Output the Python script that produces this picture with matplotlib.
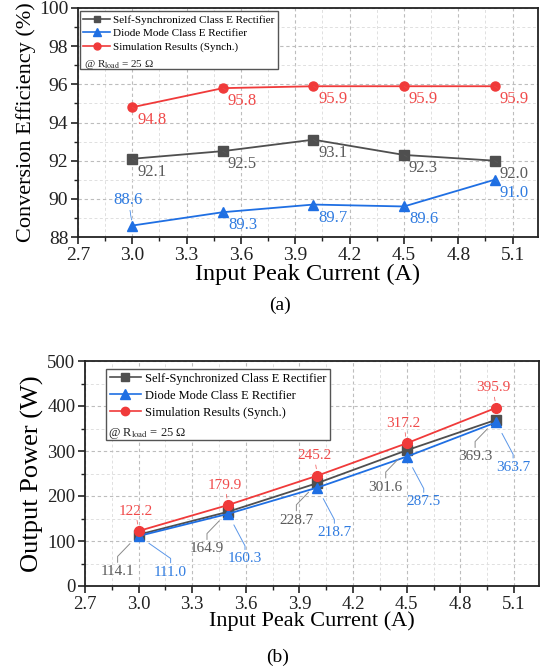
import matplotlib
matplotlib.use('Agg')
import matplotlib.pyplot as plt
from matplotlib.lines import Line2D
from matplotlib.ticker import MultipleLocator

plt.rcParams['font.family'] = ['Liberation Serif', 'DejaVu Serif']
plt.rcParams['mathtext.fontset'] = 'stix'

# data
current = [3.0, 3.5, 4.0, 4.5, 5.0]
eff_self = [92.1, 92.5, 93.1, 92.3, 92.0]
eff_diode = [88.6, 89.3, 89.7, 89.6, 91.0]
eff_sim = [94.8, 95.8, 95.9, 95.9, 95.9]
pow_self = [114.1, 164.9, 228.7, 301.6, 369.3]
pow_diode = [111.0, 160.3, 218.7, 287.5, 363.7]
pow_sim = [122.2, 179.9, 245.2, 317.2, 395.9]
series_names = ['Self-Synchronized Class E Rectifier',
                'Diode Mode Class E Rectifier',
                'Simulation Results (Synch.)']

GRAY = '#4f4f4f'
BLUE = '#1f6fe3'
RED = '#f03a3a'
GRAY_T = '#5a5a5a'
BLUE_T = '#2f7be0'
RED_T = '#f04a4a'

fig = plt.figure(figsize=(5.4, 6.69), dpi=100)
ax1 = fig.add_axes([78/540, 1-237/669, 460/540, 229/669])
ax2 = fig.add_axes([85/540, 1-586/669, 454/540, 225/669])


def style_axes(ax, tick_fs):
    for s in ax.spines.values():
        s.set_linewidth(1.3)
        s.set_color('#222222')
    ax.tick_params(which='major', direction='out', length=5, width=1.2,
                   labelsize=tick_fs, colors='#222222', pad=2)
    ax.tick_params(which='minor', direction='out', length=3, width=1.0,
                   colors='#222222')
    ax.grid(which='major', color='#bdbdbd', linestyle=(0, (3, 2.5)), lw=0.8)
    ax.grid(which='minor', color='#e0e0e0', linestyle=(0, (3, 2.5)), lw=0.7)
    ax.set_axisbelow(True)
    ax.set_xlim(2.7, 5.24)
    ax.xaxis.set_major_locator(MultipleLocator(0.3))
    ax.xaxis.set_minor_locator(MultipleLocator(0.15))
    ax.set_xticks([2.7, 3.0, 3.3, 3.6, 3.9, 4.2, 4.5, 4.8, 5.1])


# ---------- (a) efficiency ----------
style_axes(ax1, 14)
ax1.plot(current, eff_self, color=GRAY, marker='s', ms=6.5, lw=1.3, label=series_names[0])
ax1.plot(current, eff_diode, color=BLUE, marker='^', ms=7, lw=1.3, label=series_names[1])
ax1.plot(current, eff_sim, color=RED, marker='o', ms=6.5, lw=1.3, label=series_names[2])
ax1.set_ylim(88, 100)
ax1.yaxis.set_major_locator(MultipleLocator(2))
ax1.yaxis.set_minor_locator(MultipleLocator(1))
ax1.set_xticklabels(['2.7', '3.0', '3.3', '3.6', '3.9', '4.2', '4.5', '4.8', '5.1'])

for vals, col in [(eff_sim, RED_T), (eff_self, GRAY_T), (eff_diode, BLUE_T)]:
    for i, (x, v) in enumerate(zip(current, vals)):
        if vals is eff_diode and i == 0:
            off, ha, va = (-4, 18), 'center', 'bottom'
        else:
            off, ha, va = (5, -5), 'left', 'top'
        ax1.annotate(f'{v:.1f}', xy=(x, v), xytext=off, textcoords='offset pixels',
                     ha=ha, va=va, fontsize=12, color=col,
                     arrowprops=dict(arrowstyle='-', color=col, lw=0.5,
                                     shrinkA=0, shrinkB=4))

ax1.set_ylabel('Conversion Efficiency (%)', fontsize=16, labelpad=2)
ax1.set_xlabel('Input Peak Current (A)', fontsize=17.5, labelpad=0)

h = [Line2D([], [], color=GRAY, marker='s', ms=5, lw=1.2),
     Line2D([], [], color=BLUE, marker='^', ms=6, lw=1.2),
     Line2D([], [], color=RED, marker='o', ms=5, lw=1.2),
     Line2D([], [], color='none')]
leg = ax1.legend(h, series_names + [' '], loc='upper left',
                 bbox_to_anchor=(0.004, 0.985), borderaxespad=0, fontsize=8,
                 labelspacing=0.35, handlelength=2.4, handletextpad=0.3,
                 borderpad=0.3, fancybox=False, framealpha=1, edgecolor='#555555')
leg.get_frame().set_linewidth(1.0)
ax1.text(0.012, 0.752, '@ R$_{\\mathrm{load}}$ = 25 Ω', transform=ax1.transAxes,
         fontsize=8, va='center', ha='left', color='#222222', zorder=10)

# ---------- (b) output power ----------
style_axes(ax2, 13.5)
ax2.plot(current, pow_self, color=GRAY, marker='s', ms=7, lw=1.3)
ax2.plot(current, pow_diode, color=BLUE, marker='^', ms=7.5, lw=1.3)
ax2.plot(current, pow_sim, color=RED, marker='o', ms=7, lw=1.3)
ax2.set_ylim(0, 500)
ax2.yaxis.set_major_locator(MultipleLocator(100))
ax2.yaxis.set_minor_locator(MultipleLocator(50))
ax2.set_xticklabels(['2.7', '3.0', '3.3', '3.6', '3.9', '4.2', '4.5', '4.8', '5.1'])

for i, (x, v) in enumerate(zip(current, pow_sim)):
    ax2.annotate(f'{v:.1f}', xy=(x, v), xytext=(-3, 20), textcoords='offset pixels',
                 ha='center', va='center', fontsize=11, color=RED_T,
                 arrowprops=dict(arrowstyle='-', color=RED_T, lw=0.5,
                                 shrinkA=0, shrinkB=5))
for i, (x, v) in enumerate(zip(current, pow_self)):
    ax2.annotate(f'{v:.1f}', xy=(x, v), xytext=(-21, -37), textcoords='offset pixels',
                 ha='center', va='center', fontsize=11, color=GRAY_T,
                 arrowprops=dict(arrowstyle='-', color='#8a8a8a', lw=0.7,
                                 shrinkA=0, shrinkB=9,
                                 connectionstyle='angle,angleA=90,angleB=46,rad=0'))
for i, (x, v) in enumerate(zip(current, pow_diode)):
    if i == 0:
        off, ang = (32, -36), 145
    else:
        off, ang = (17, -45), 118
    ax2.annotate(f'{v:.1f}', xy=(x, v), xytext=off, textcoords='offset pixels',
                 ha='center', va='center', fontsize=11, color=BLUE_T,
                 arrowprops=dict(arrowstyle='-', color='#5a96e8', lw=0.7,
                                 shrinkA=0, shrinkB=9,
                                 connectionstyle=f'angle,angleA=90,angleB={ang},rad=0'))

ax2.set_ylabel('Output Power (W)', fontsize=19, labelpad=2)
ax2.set_xlabel('Input Peak Current (A)', fontsize=16, labelpad=-1)

h2 = [Line2D([], [], color=GRAY, marker='s', ms=6, lw=1.2),
      Line2D([], [], color=BLUE, marker='^', ms=6.5, lw=1.2),
      Line2D([], [], color=RED, marker='o', ms=6, lw=1.2),
      Line2D([], [], color='none')]
leg2 = ax2.legend(h2, series_names + [' '], loc='upper left',
                  bbox_to_anchor=(0.046, 0.964), borderaxespad=0, fontsize=9,
                  labelspacing=0.4, handlelength=2.5, handletextpad=0.3,
                  borderpad=0.3, fancybox=False, framealpha=1, edgecolor='#555555')
leg2.get_frame().set_linewidth(1.0)
ax2.text(0.05, 0.676, '@ R$_{\\mathrm{load}}$ = 25 Ω', transform=ax2.transAxes,
         fontsize=9, va='center', ha='left', color='#222222', zorder=10)

fig.text(280/540, 1-305/669, '(a)', fontsize=14, ha='center', va='center')
fig.text(278/540, 1-657/669, '(b)', fontsize=14, ha='center', va='center')

fig.savefig('out.png', dpi=100)
